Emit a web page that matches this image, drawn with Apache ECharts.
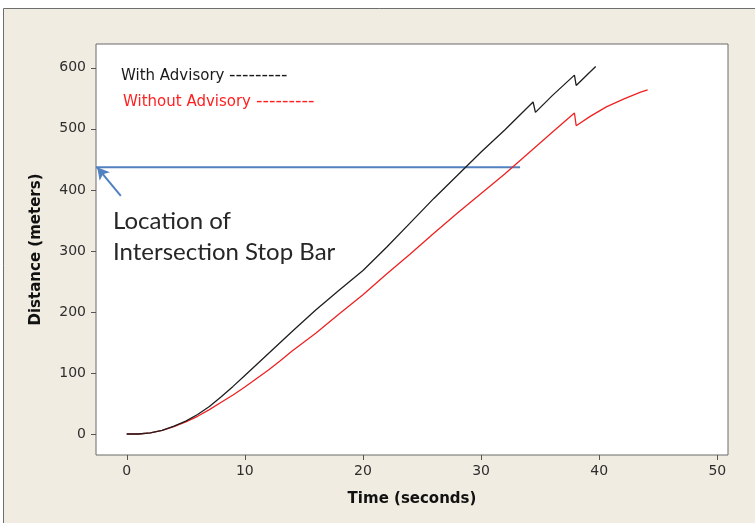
<!DOCTYPE html>
<html>
<head>
<meta charset="utf-8">
<script src="https://cdn.jsdelivr.net/npm/echarts@6/dist/echarts.min.js"></script>
<style>
  html, body { margin: 0; padding: 0; background: #ffffff; }
  #chart { width: 755px; height: 523px; }
</style>
</head>
<body>
<div id="chart"></div>
<script>
// time (s) vs distance (m)
const withTime = [0, 1, 2, 3, 4, 5, 6, 7, 8, 9, 10, 11, 12, 13, 14, 16, 18, 20, 22, 24, 26, 28, 30, 32, 34.4, 34.6, 36, 37.9, 38.05, 39, 39.7]
const withDist = [0, 0, 2, 6, 13, 21, 32, 45, 61, 78, 96, 114, 132, 150, 168, 203, 236, 268, 306, 346, 386, 424, 462, 498, 544, 527, 554, 588, 571, 589, 602]

const withoutTime = [0, 1, 2, 3, 4, 5, 6, 7, 8, 9, 10, 11, 12, 13, 14, 16, 18, 20, 22, 24, 26, 28, 30, 32, 34, 36, 37.9, 38.05, 39.2, 40.6, 42.1, 43.5, 44.1]
const withoutDist = [0, 0, 2, 6, 12, 20, 29, 40, 52, 64, 77, 91, 105, 120, 136, 165, 197, 228, 262, 295, 329, 362, 394, 426, 460, 494, 526, 505, 520, 536, 549, 560, 564]

const xTicks = [0, 10, 20, 30, 40, 50]
const yTicks = [0, 100, 200, 300, 400, 500, 600]

// padded data range of the plot frame
const xMin = -2.6
const xMax = 50.9
const yMin = -34.4
const yMax = 639

const stopBarDist = 437
const stopBarEnd = 33.3
const arrowFrom = [-0.5, 390]
const arrowTo = [-2.5, 437]

const legendNames = ['With Advisory', 'Without Advisory']
const legendDashes = '---------'
// zero-width non-joiner keeps the "ti" from fusing into a ligature
const noteLines = ['Location of', 'Interse\u200Cc\u200Ction Stop Bar']

const pairs = (xs, ys) => xs.map((x, i) => [x, ys[i]])

const chart = echarts.init(document.getElementById('chart'))

const tickFont = { fontFamily: 'DejaVu Sans', fontSize: 14, color: '#2e2e2e' }
const nameFont = { fontFamily: 'DejaVu Sans', fontWeight: 'bold', fontSize: 15, color: '#111111' }
const hidden = { show: false }
const tickColor = '#555555'
const tickLen = 5

const baseGraphic = [
  // white margin and thin frame around the beige panel
  { type: 'rect', shape: { x: 0, y: 0, width: 755, height: 8 }, style: { fill: '#ffffff' } },
  { type: 'rect', shape: { x: 0, y: 0, width: 3, height: 523 }, style: { fill: '#ffffff' } },
  { type: 'line', shape: { x1: 3.5, y1: 8.5, x2: 755, y2: 8.5 }, style: { stroke: '#6e6e6e', lineWidth: 1 } },
  { type: 'line', shape: { x1: 3.5, y1: 8.5, x2: 3.5, y2: 523 }, style: { stroke: '#6e6e6e', lineWidth: 1 } },
  {
    type: 'text', left: 121, top: 69, z: 10,
    style: { text: legendNames[0], fill: '#1a1a1a', font: '15px "DejaVu Sans"' },
  },
  {
    type: 'text', left: 229, top: 66, z: 10,
    style: { text: legendDashes, fill: '#1a1a1a', font: '18px "DejaVu Sans"' },
  },
  {
    type: 'text', left: 123, top: 95, z: 10,
    style: { text: legendNames[1], fill: '#ff2020', font: '15px "DejaVu Sans"' },
  },
  {
    type: 'text', left: 256, top: 92, z: 10,
    style: { text: legendDashes, fill: '#ff2020', font: '18px "DejaVu Sans"' },
  },
  {
    type: 'text', left: 113, top: 206, z: 10,
    style: { text: noteLines.join('\n'), fill: '#262626', font: '24px Lato', lineHeight: 31 },
  },
]

chart.setOption({
  animation: false,
  backgroundColor: '#f0ece1',
  graphic: baseGraphic,
  grid: {
    left: 96,
    top: 44,
    right: 27,
    bottom: 68,
    show: true,
    backgroundColor: '#ffffff',
    borderColor: '#6a6a6a',
    borderWidth: 1,
  },
  xAxis: {
    type: 'value',
    min: xMin,
    max: xMax,
    name: 'Time (seconds)',
    nameLocation: 'middle',
    nameGap: 37,
    nameTextStyle: nameFont,
    axisLine: { show: false, onZero: false },
    axisTick: hidden,
    axisLabel: { ...tickFont, margin: 9, customValues: xTicks },
    splitLine: hidden,
  },
  yAxis: {
    type: 'value',
    min: yMin,
    max: yMax,
    name: 'Distance (meters)',
    nameLocation: 'middle',
    nameRotate: 90,
    nameGap: 52,
    nameTextStyle: nameFont,
    axisLine: { show: false, onZero: false },
    axisTick: hidden,
    axisLabel: { ...tickFont, margin: 10, customValues: yTicks },
    splitLine: hidden,
  },
  series: [
    {
      name: 'Stop Bar',
      type: 'line',
      data: [[xMin, stopBarDist], [stopBarEnd, stopBarDist]],
      showSymbol: false,
      lineStyle: { color: '#5181c0', width: 2 },
      z: 3,
      markLine: {
        silent: true,
        symbol: ['none', 'arrow'],
        symbolSize: [10, 12],
        label: { show: false },
        lineStyle: { color: '#5181c0', width: 2, type: 'solid' },
        data: [[{ coord: arrowFrom }, { coord: arrowTo }]],
      },
    },
    {
      name: 'Without Advisory',
      type: 'line',
      data: pairs(withoutTime, withoutDist),
      showSymbol: false,
      lineStyle: { color: '#ee2222', width: 1.3 },
      z: 4,
    },
    {
      name: 'With Advisory',
      type: 'line',
      data: pairs(withTime, withDist),
      showSymbol: false,
      lineStyle: { color: '#1e1e1e', width: 1.3 },
      z: 5,
    },
  ],
})

// outward tick marks on the frame, positioned through the axes' own scales
const px = (v) => Math.round(v) + 0.5
const bottomEdge = chart.convertToPixel({ yAxisIndex: 0 }, yMin)
const leftEdge = chart.convertToPixel({ xAxisIndex: 0 }, xMin)
const tickMarks = [
  ...xTicks.map((v) => {
    const x = px(chart.convertToPixel({ xAxisIndex: 0 }, v))
    return { type: 'line', z: 20, shape: { x1: x, y1: bottomEdge, x2: x, y2: bottomEdge + tickLen }, style: { stroke: tickColor, lineWidth: 1 } }
  }),
  ...yTicks.map((v) => {
    const y = px(chart.convertToPixel({ yAxisIndex: 0 }, v))
    return { type: 'line', z: 20, shape: { x1: leftEdge - tickLen, y1: y, x2: leftEdge, y2: y }, style: { stroke: tickColor, lineWidth: 1 } }
  }),
]
chart.setOption({ graphic: [...baseGraphic, ...tickMarks] })
</script>
</body>
</html>
